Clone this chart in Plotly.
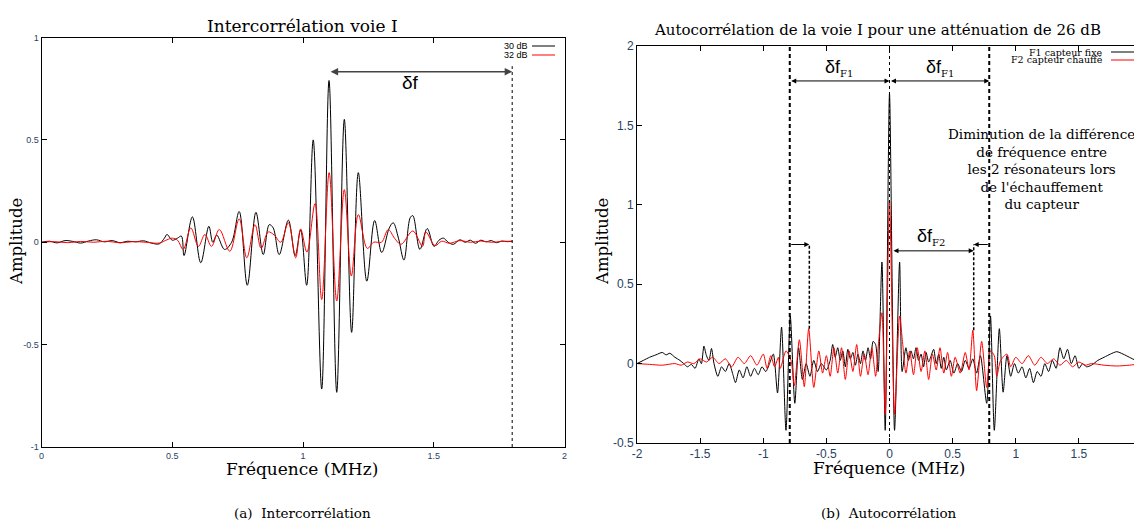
import plotly.graph_objects as go

# the page puts the plot 8px in from the top-left corner of the 1142x528 window
PAGE_PAD = 8
W, H = 1142 - PAGE_PAD, 528 - PAGE_PAD

# ---- (a) Intercorrélation voie I
inter_x = [0, 0.03, 0.06, 0.09, 0.12, 0.15, 0.18, 0.21, 0.24, 0.27, 0.30, 0.33, 0.36, 0.39,
           0.42, 0.45, 0.47, 0.48, 0.50, 0.52, 0.535, 0.545, 0.577, 0.609, 0.64, 0.655, 0.67,
           0.70, 0.727, 0.756, 0.787, 0.82, 0.848, 0.871, 0.886, 0.909, 0.944, 0.97, 0.991,
           1.014, 1.039, 1.0715, 1.0995, 1.129, 1.158, 1.186, 1.2115, 1.244, 1.274, 1.301,
           1.33, 1.345, 1.365, 1.386, 1.41, 1.42, 1.447, 1.475, 1.501, 1.52, 1.537, 1.555,
           1.575, 1.60, 1.62, 1.64, 1.66, 1.68, 1.70, 1.72, 1.74, 1.76, 1.78, 1.80]
inter_30db = [0, 0.005, -0.003, 0.008, 0.004, -0.004, 0.006, 0.012, 0.002, 0.008, -0.002, 0.005,
              0.002, 0.007, -0.004, -0.008, 0.02, 0.038, 0.01, 0.02, 0.03, -0.065, 0.124, -0.10,
              0.078, 0.0, 0.035, -0.035, 0.0, 0.15, -0.21, 0.146, -0.06, 0.086, 0.07, -0.06,
              0.108, -0.065, 0.06, -0.21, 0.50, -0.717, 0.79, -0.733, 0.60, -0.44, 0.34, -0.19,
              0.106, -0.05, 0.07, 0.095, 0.02, -0.087, 0.12, 0.13, -0.035, 0.067, -0.02, 0.01,
              0.02, 0.0, -0.01, 0.012, 0.0, 0.01, -0.005, 0.01, 0.002, 0.008, -0.002, 0.006,
              0.003, 0.005]

inter_x_red = [0, 0.05, 0.1, 0.15, 0.2, 0.25, 0.3, 0.35, 0.4, 0.45, 0.48, 0.5, 0.52, 0.542,
               0.571, 0.60, 0.625, 0.65, 0.68, 0.72, 0.756, 0.785, 0.8165, 0.84, 0.867, 0.89,
               0.915, 0.944, 0.972, 0.991, 1.015, 1.046, 1.0715, 1.10, 1.129, 1.158, 1.185,
               1.2115, 1.246, 1.27, 1.30, 1.326, 1.35, 1.375, 1.42, 1.457, 1.47, 1.505, 1.53,
               1.56, 1.60, 1.64, 1.68, 1.72, 1.76, 1.80]
inter_32db = [0, 0.003, -0.002, 0.004, 0.0, 0.005, -0.003, 0.003, 0.0, -0.004, 0.012, 0.02,
              0.01, -0.035, 0.07, -0.02, 0.038, -0.02, 0.062, -0.044, 0.114, -0.076, 0.086,
              -0.03, 0.05, 0.035, 0.0, 0.095, -0.076, 0.065, -0.048, 0.189, -0.28, 0.34,
              -0.287, 0.257, -0.165, 0.135, -0.03, 0.0, 0.0, 0.062, 0.02, -0.01, 0.055, -0.02,
              0.05, -0.017, 0.005, -0.005, 0.008, 0.0, 0.006, 0.0, 0.004, 0.005]

# ---- (b) Autocorrélation voie I, 26 dB
auto_x_f1 = [-2.0, -1.95, -1.9, -1.85, -1.8, -1.77, -1.74, -1.7, -1.66, -1.63, -1.6, -1.57,
             -1.54, -1.51, -1.49, -1.47, -1.45, -1.43, -1.41, -1.39, -1.36, -1.33, -1.3, -1.27,
             -1.24, -1.22, -1.19, -1.16, -1.13, -1.1, -1.07, -1.04, -1.01, -0.98, -0.95, -0.92,
             -0.887, -0.855, -0.82, -0.786, -0.75, -0.72, -0.69, -0.66, -0.63, -0.6, -0.57,
             -0.54, -0.5, -0.47, -0.45, -0.43, -0.41, -0.39, -0.37, -0.35, -0.33, -0.31, -0.29,
             -0.27, -0.25, -0.23, -0.21, -0.19, -0.17, -0.15, -0.13, -0.11, -0.09, -0.06,
             -0.034, 0.0, 0.04, 0.08, 0.1, 0.13, 0.15, 0.17, 0.19, 0.21, 0.23, 0.25, 0.27,
             0.29, 0.31, 0.33, 0.35, 0.37, 0.39, 0.41, 0.43, 0.45, 0.48, 0.51, 0.54, 0.57,
             0.6, 0.63, 0.66, 0.69, 0.72, 0.77, 0.80, 0.83, 0.87, 0.9, 0.93, 0.96, 0.99, 1.02,
             1.05, 1.08, 1.11, 1.14, 1.17, 1.2, 1.23, 1.26, 1.29, 1.32, 1.35, 1.38, 1.41,
             1.44, 1.47, 1.5, 1.53, 1.56, 1.6, 1.65, 1.7, 1.75, 1.8, 1.85, 1.9, 1.95, 2.0]
auto_f1 = [0.0, 0.02, 0.04, 0.055, 0.07, 0.055, 0.065, 0.04, 0.02, 0.0, -0.02, -0.005, -0.03,
           0.03, 0.0, 0.11, 0.05, 0.02, 0.095, 0.0, -0.08, -0.02, -0.05, 0.0, -0.07, -0.12,
           -0.04, -0.09, -0.02, -0.08, -0.03, -0.07, -0.02, -0.05, 0.0, 0.06, -0.185, 0.23,
           -0.42, 0.30, -0.25, 0.1, -0.1, 0.0, -0.08, 0.02, -0.05, 0.0, -0.04, 0.02, 0.12,
           0.04, 0.1, 0.02, 0.08, -0.02, 0.09, 0.03, 0.07, -0.01, 0.06, 0.0, 0.08, 0.02, 0.1,
           0.03, 0.14, 0.12, -0.05, 0.64, -0.42, 1.70, -0.42, 0.64, -0.05, 0.1, 0.02, 0.08,
           0.03, 0.1, 0.02, 0.06, -0.02, 0.07, 0.01, 0.05, 0.09, 0.0, 0.06, -0.03, 0.04,
           -0.04, 0.02, -0.06, 0.0, -0.05, 0.02, -0.03, 0.03, -0.06, 0.05, -0.25, 0.30, -0.42,
           0.22, -0.18, 0.05, -0.08, 0.0, -0.06, -0.02, -0.09, -0.03, -0.12, -0.05, -0.08,
           0.0, -0.05, 0.02, -0.03, 0.1, 0.03, 0.09, 0.0, 0.05, -0.03, 0.0, -0.02, -0.01,
           0.02, 0.04, 0.06, 0.075, 0.06, 0.04, 0.02, 0.0]

auto_x_f2 = [-2.0, -1.9, -1.8, -1.7, -1.65, -1.6, -1.55, -1.5, -1.45, -1.4, -1.35, -1.3, -1.25,
             -1.2, -1.15, -1.1, -1.05, -1.0, -0.97, -0.94, -0.91, -0.88, -0.865, -0.82, -0.78,
             -0.754, -0.714, -0.675, -0.64, -0.6, -0.56, -0.53, -0.5, -0.47, -0.44, -0.41,
             -0.38, -0.35, -0.32, -0.29, -0.26, -0.23, -0.2, -0.17, -0.14, -0.11, -0.085,
             -0.06, -0.034, 0.0, 0.04, 0.08, 0.105, 0.13, 0.16, 0.19, 0.22, 0.25, 0.28, 0.31,
             0.34, 0.37, 0.4, 0.43, 0.46, 0.49, 0.52, 0.56, 0.6, 0.63, 0.66, 0.69, 0.73, 0.77,
             0.8, 0.83, 0.85, 0.88, 0.93, 0.96, 1.0, 1.05, 1.1, 1.15, 1.2, 1.25, 1.3, 1.35, 1.4,
             1.45, 1.5, 1.55, 1.6, 1.7, 1.8, 1.9, 2.0]
auto_f2 = [0.0, -0.005, -0.01, 0.0, -0.01, 0.01, 0.0, 0.03, 0.01, 0.04, 0.0, 0.03, -0.02,
           0.04, 0.0, 0.05, -0.01, 0.06, -0.03, 0.05, -0.02, 0.04, -0.03, 0.08, 0.02, -0.14,
           0.15, -0.145, 0.22, -0.15, 0.08, -0.06, 0.05, -0.08, 0.1, -0.06, 0.1, -0.1, 0.08,
           -0.05, 0.12, -0.08, 0.06, -0.07, 0.1, -0.08, 0.15, 0.32, -0.32, 1.03, -0.32, 0.30,
           0.12, -0.06, 0.08, -0.07, 0.1, -0.05, 0.08, -0.1, 0.06, -0.04, 0.1, -0.06, 0.07,
           -0.08, 0.04, -0.06, 0.07, -0.04, 0.21, -0.17, 0.14, -0.15, 0.08, 0.05, -0.08, 0.02,
           0.06, -0.02, 0.04, 0.0, 0.05, -0.01, 0.04, 0.0, 0.03, -0.01, 0.02, -0.02, 0.01,
           -0.01, 0.0, -0.01, -0.015, -0.01, 0.0]

# annotation positions (MHz)
DF_X = 1.8            # end of delta f in (a)
DF_START = 1.1
F1_LINE = 0.79        # resonator F1 offsets in (b)
F2_LEFT, F2_RIGHT = -0.635, 0.667

SERIF = "DejaVu Serif"
SANS = "Liberation Sans"


# screen pixel -> paper fraction
def px(x):
    return (x - PAGE_PAD) / W


def py(y):
    return 1 - (y - PAGE_PAD) / H


fig = go.Figure()

fig.add_trace(go.Scatter(x=inter_x, y=inter_30db, mode="lines",
                         line=dict(color="black", width=1, shape="spline", smoothing=1),
                         xaxis="x", yaxis="y", showlegend=False))
fig.add_trace(go.Scatter(x=inter_x_red, y=inter_32db, mode="lines",
                         line=dict(color="red", width=1, shape="spline", smoothing=1),
                         xaxis="x", yaxis="y", showlegend=False))
fig.add_trace(go.Scatter(x=auto_x_f1, y=auto_f1, mode="lines",
                         line=dict(color="black", width=1, shape="spline", smoothing=0.7),
                         xaxis="x2", yaxis="y2", showlegend=False))
fig.add_trace(go.Scatter(x=auto_x_f2, y=auto_f2, mode="lines",
                         line=dict(color="red", width=1, shape="spline", smoothing=0.7),
                         xaxis="x2", yaxis="y2", showlegend=False))

axis_style = dict(showline=True, linecolor="black", linewidth=1, mirror="ticks", ticks="inside",
                  ticklen=5, tickcolor="black", showgrid=False, zeroline=False, automargin=False)

fig.update_layout(
    width=W, height=H, margin=dict(l=0, r=0, t=0, b=0),
    plot_bgcolor="white", paper_bgcolor="white",
    xaxis=dict(domain=[px(41.5), px(564.5)], range=[0, 2], tickvals=[0, 0.5, 1, 1.5, 2],
               ticktext=["0", "0.5", "1", "1.5", "2"], tickfont=dict(family=SANS, size=9),
               anchor="y", **axis_style),
    yaxis=dict(domain=[py(447), py(37.5)], range=[-1, 1], tickvals=[-1, -0.5, 0, 0.5, 1],
               ticktext=["-1", "-0.5", "0", "0.5", "1"], tickfont=dict(family=SANS, size=9),
               anchor="x", **axis_style),
    xaxis2=dict(domain=[px(637), 1.0], range=[-2, 2], tickvals=[-2, -1.5, -1, -0.5, 0, 0.5, 1, 1.5, 2],
                ticktext=["-2", "-1.5", "-1", "-0.5", "0", "0.5", "1", "1.5", "2"],
                tickfont=dict(family=SANS, size=12), anchor="y2", **axis_style),
    yaxis2=dict(domain=[py(443), py(46)], range=[-0.5, 2], tickvals=[-0.5, 0, 0.5, 1, 1.5, 2],
                ticktext=["-0.5", "0", "0.5", "1", "1.5", "2"], tickfont=dict(family=SANS, size=12),
                anchor="x2", **axis_style),
)

shapes = [
    dict(type="line", xref="x", yref="y", x0=DF_X, x1=DF_X, y0=-1, y1=0.86,
         line=dict(color="black", width=1, dash="dot")),
    dict(type="line", xref="x2", yref="y2", x0=0, x1=0, y0=-0.5, y1=2,
         line=dict(color="black", width=1, dash="dot")),
    dict(type="line", xref="x2", yref="y2", x0=-F1_LINE, x1=-F1_LINE, y0=-0.5, y1=2,
         line=dict(color="black", width=2, dash="4px,3px")),
    dict(type="line", xref="x2", yref="y2", x0=F1_LINE, x1=F1_LINE, y0=-0.5, y1=2,
         line=dict(color="black", width=2, dash="4px,3px")),
    dict(type="line", xref="x2", yref="y2", x0=F2_LEFT, x1=F2_LEFT, y0=0.22, y1=0.75,
         line=dict(color="black", width=1.5, dash="3px,2px")),
    dict(type="line", xref="x2", yref="y2", x0=F2_RIGHT, x1=F2_RIGHT, y0=0.21, y1=0.75,
         line=dict(color="black", width=1.5, dash="3px,2px")),
    # gnuplot-style legend samples
    dict(type="line", xref="paper", yref="paper", x0=px(532), x1=px(555), y0=py(46), y1=py(46),
         line=dict(color="black", width=1)),
    dict(type="line", xref="paper", yref="paper", x0=px(532), x1=px(555), y0=py(55), y1=py(55),
         line=dict(color="red", width=1)),
    dict(type="line", xref="paper", yref="paper", x0=px(1111), x1=px(1134), y0=py(52), y1=py(52),
         line=dict(color="black", width=1)),
    dict(type="line", xref="paper", yref="paper", x0=px(1111), x1=px(1134), y0=py(60), y1=py(60),
         line=dict(color="red", width=1)),
]
fig.update_layout(shapes=shapes)


def text(x, y, s, size, family=SERIF, xanchor="center", angle=0):
    return dict(x=px(x), y=py(y), xref="paper", yref="paper", text=s, showarrow=False,
                xanchor=xanchor, yanchor="middle", textangle=angle,
                font=dict(family=family, size=size, color="black"))


def arrow(xa, ya, x0, x1, y, both=True, color="black", width=1, head=2):
    return dict(x=x1, y=y, ax=x0, ay=y, xref=xa, yref=ya, axref=xa, ayref=ya, text="",
                showarrow=True, arrowhead=head, arrowsize=1, arrowwidth=width, arrowcolor=color,
                arrowside="end+start" if both else "end", standoff=0, startstandoff=0)


def delta(label):
    return ("δf<sub><span style='font-family:DejaVu Serif;font-size:10px'>"
            + label + "</span></sub>")


annotations = [
    text(302, 26, "Intercorrélation voie I", 17),
    text(877, 30, "Autocorrélation de la voie I pour une atténuation de 26 dB", 15),
    text(302, 469, "Fréquence (MHz)", 17),
    text(889, 468, "Fréquence (MHz)", 17),
    text(17, 242, "Amplitude", 16.5, angle=-90),
    text(603, 242, "Amplitude", 16.5, angle=-90),
    text(302, 513, "(a)  Intercorrélation", 13.5),
    text(889, 513, "(b)  Autocorrélation", 13.5),
    text(530, 46, "30 dB", 9, family=SANS, xanchor="right"),
    text(530, 55, "32 dB", 9, family=SANS, xanchor="right"),
    text(1105, 52, "F1 capteur fixe", 9.5, xanchor="right"),
    text(1105, 60, "F2 capteur chauffé", 9.5, xanchor="right"),
    text(1041, 169, "Diminution de la différence<br>de fréquence entre<br>les 2 résonateurs lors"
                    "<br>de l'échauffement<br>du capteur", 13.5),
    dict(x=1.41, y=0.78, xref="x", yref="y", text="δf", showarrow=False,
         font=dict(family=SANS, size=19, color="black")),
    dict(x=-0.4, y=1.86, xref="x2", yref="y2", text=delta("F1"), showarrow=False,
         font=dict(family=SANS, size=18, color="black")),
    dict(x=0.4, y=1.86, xref="x2", yref="y2", text=delta("F1"), showarrow=False,
         font=dict(family=SANS, size=18, color="black")),
    dict(x=0.33, y=0.8, xref="x2", yref="y2", text=delta("F2"), showarrow=False,
         font=dict(family=SANS, size=18, color="black")),
    arrow("x", "y", DF_START, DF_X, 0.833, color="#444444", width=1.5),
    arrow("x2", "y2", -F1_LINE, 0, 1.78),
    arrow("x2", "y2", 0, F1_LINE, 1.78),
    arrow("x2", "y2", -F1_LINE, F2_LEFT, 0.75, both=False),
    arrow("x2", "y2", F1_LINE, F2_RIGHT, 0.75, both=False),
    arrow("x2", "y2", 0.02, F2_RIGHT, 0.71),
]
fig.update_layout(annotations=annotations)

fig.write_html("out.html")
